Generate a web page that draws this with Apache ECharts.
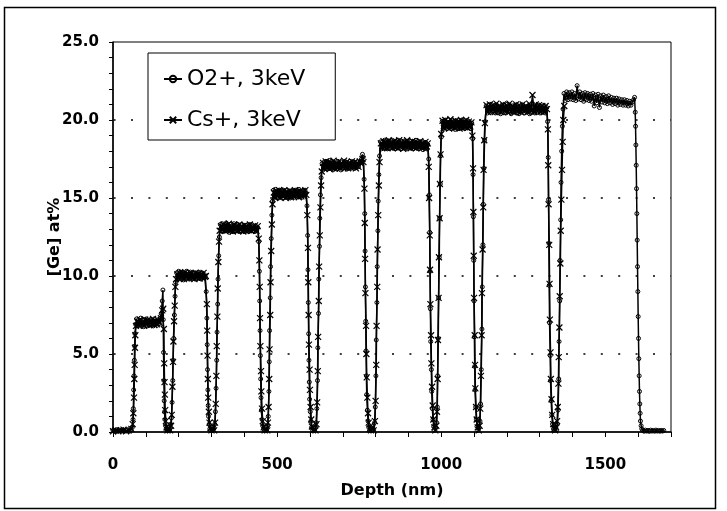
<!DOCTYPE html>
<html>
<head>
<meta charset="utf-8">
<script src="https://cdn.jsdelivr.net/npm/echarts@6/dist/echarts.min.js"></script>
<style>
  body { margin: 0; background: #fff; }
  #chart { width: 727px; height: 511px; }
</style>
</head>
<body>
<div id="chart"></div>
<script>
// [depth (nm), Ge at%]
var o2Data = [
  [0,0.1],[5,0.05],[10,0.15],[15,0.05],[20,0.12],[25,0.04],[30,0.14],[35,0.06],[40,0.1],[45,0.15],[50,0.05],[55,0.12],[59,0.3],
  [61,0.8],[62,1.5],[63,2.7],[64,3.6],[65,4.6],[66,5.5],[67,6.3],[69,6.9],
  [72,7.25],[75,6.8],[78,7.2],[81,6.85],[84,7.3],[87,6.9],[90,7.15],[93,6.75],[96,7.2],[99,6.9],[102,7.25],[105,6.8],[108,7.1],[111,6.85],[114,7.2],[117,6.9],[120,7.15],[123,6.8],[126,7.25],[129,6.9],[132,7.1],[135,6.85],[138,7.2],[141,6.95],[144,7.3],[147,7.6],[150,8.4],[152,9.1],
  [153,7.2],[154,5.1],[155,3.3],[156,2.0],[157,1.3],[158,0.8],[160,0.4],[162,0.2],[165,0.1],[168,0.3],[171,0.1],[174,0.25],[176,0.5],
  [178,0.9],[180,1.9],[182,3.3],[183,4.6],[185,6.0],[187,7.5],[189,8.7],[191,9.6],
  [194,10.2],[197,9.8],[200,10.3],[203,9.85],[206,10.25],[209,9.9],[212,10.2],[215,9.75],[218,10.15],[221,9.85],[224,10.3],[227,9.9],[230,10.1],[233,9.8],[236,10.25],[239,9.9],[242,10.15],[245,9.85],[248,10.2],[251,9.8],[254,10.1],[257,9.9],[260,10.25],[263,9.85],[266,10.15],[269,9.8],[272,10.2],[275,9.9],[278,10.1],[281,9.95],
  [284,9.0],[286,7.3],[287,5.6],[288,4.0],[289,2.7],[290,1.7],[291,1.0],[293,0.5],[295,0.2],[298,0.1],[301,0.3],[304,0.15],[307,0.2],[310,0.5],
  [312,1.3],[314,2.8],[316,4.6],[317,6.4],[319,8.2],[320,9.8],[322,11.3],[324,12.5],
  [327,13.3],[330,12.9],[333,13.35],[336,12.85],[339,13.2],[342,12.9],[345,13.4],[348,13.0],[351,13.25],[354,12.8],[357,13.3],[360,12.95],[363,13.2],[366,12.85],[369,13.35],[372,12.9],[375,13.2],[378,12.95],[381,13.3],[384,12.85],[387,13.15],[390,12.9],[393,13.3],[396,12.95],[399,13.2],[402,12.85],[405,13.25],[408,12.9],[411,13.15],[414,12.85],[417,13.3],[420,12.95],[423,13.2],[426,12.9],[429,13.15],[432,12.85],[435,13.2],[438,12.95],[441,13.1],
  [444,12.2],[446,10.3],[447,8.4],[448,6.5],[449,4.9],[450,3.4],[451,2.2],[452,1.4],[454,0.8],[456,0.4],[459,0.2],[462,0.1],[465,0.3],[468,0.15],[471,0.4],
  [473,1.0],[475,2.6],[476,4.5],[477,6.5],[479,8.6],[480,10.6],[482,12.4],[484,13.9],[486,14.8],
  [489,15.5],[492,15.1],[495,15.55],[498,15.05],[501,15.4],[504,15.0],[507,15.5],[510,15.1],[513,15.45],[516,15.0],[519,15.5],[522,15.15],[525,15.4],[528,15.05],[531,15.5],[534,15.1],[537,15.35],[540,15.0],[543,15.45],[546,15.1],[549,15.4],[552,15.05],[555,15.5],[558,15.15],[561,15.4],[564,15.1],[567,15.55],[570,15.15],[573,15.4],[576,15.05],[579,15.45],[582,15.2],[585,15.5],[588,15.3],
  [591,14.5],[593,12.6],[594,10.4],[595,8.3],[596,6.3],[597,4.6],[598,3.2],[599,2.1],[601,1.3],[603,0.7],[605,0.3],[608,0.1],[611,0.25],[614,0.1],[617,0.3],[619,0.6],
  [621,1.5],[623,3.3],[624,5.4],[626,7.6],[627,9.8],[629,11.9],[630,13.7],[632,15.2],[634,16.3],
  [637,17.2],[640,16.8],[643,17.3],[646,16.9],[649,17.35],[652,16.85],[655,17.2],[658,16.9],[661,17.4],[664,16.95],[667,17.25],[670,16.8],[673,17.3],[676,16.9],[679,17.2],[682,16.85],[685,17.35],[688,16.95],[691,17.2],[694,16.8],[697,17.3],[700,16.9],[703,17.25],[706,16.95],[709,17.3],[712,16.85],[715,17.2],[718,16.95],[721,17.35],[724,16.9],[727,17.25],[730,17.0],[733,17.3],[736,16.9],[739,17.2],[742,16.95],[745,17.3],[748,17.0],[751,17.25],[754,17.35],[757,17.5],[760,17.8],[762,17.6],
  [765,16.2],[767,14.0],[768,11.6],[769,9.3],[770,7.1],[771,5.2],[772,3.6],[773,2.4],[775,1.4],[777,0.7],[779,0.3],[782,0.1],[785,0.3],[788,0.1],[791,0.35],[794,0.15],[797,0.6],
  [799,1.6],[801,3.6],[802,5.9],[804,8.3],[805,10.6],[807,12.9],[808,14.8],[810,16.5],[812,17.7],
  [815,18.6],[818,18.15],[821,18.6],[824,18.2],[827,18.7],[830,18.25],[833,18.55],[836,18.15],[839,18.65],[842,18.2],[845,18.6],[848,18.3],[851,18.7],[854,18.2],[857,18.55],[860,18.15],[863,18.6],[866,18.25],[869,18.7],[872,18.2],[875,18.5],[878,18.15],[881,18.6],[884,18.25],[887,18.65],[890,18.2],[893,18.55],[896,18.15],[899,18.6],[902,18.3],[905,18.65],[908,18.2],[911,18.55],[914,18.15],[917,18.6],[920,18.25],[923,18.7],[926,18.2],[929,18.5],[932,18.15],[935,18.6],[938,18.25],[941,18.55],[944,18.1],[947,18.5],[950,18.2],[953,18.55],[956,18.15],[959,18.4],
  [962,17.5],[964,15.2],[965,12.8],[966,10.3],[967,7.9],[968,5.8],[970,4.0],[971,2.6],[973,1.5],[975,0.8],[977,0.35],[980,0.1],[983,0.3],[986,0.6],
  [988,1.6],[989,3.6],[991,6.0],[992,8.6],[994,11.2],[995,13.7],[997,15.9],[998,17.7],[1000,18.9],
  [1003,19.9],[1006,19.45],[1009,19.95],[1012,19.5],[1015,19.9],[1018,19.45],[1021,20.0],[1024,19.55],[1027,19.85],[1030,19.45],[1033,19.95],[1036,19.5],[1039,19.9],[1042,19.4],[1045,19.95],[1048,19.55],[1051,19.85],[1054,19.45],[1057,19.9],[1060,19.5],[1063,20.0],[1066,19.5],[1069,19.85],[1072,19.45],[1075,19.9],[1078,19.55],[1081,19.95],[1084,19.5],[1087,19.85],[1090,19.45],[1093,19.8],
  [1096,18.8],[1097,16.5],[1098,13.8],[1099,11.0],[1100,8.4],[1101,6.1],[1102,4.2],[1103,2.7],[1105,1.6],[1107,0.8],[1109,0.35],[1112,0.1],[1115,0.3],[1118,0.7],
  [1120,1.8],[1122,4.0],[1124,6.6],[1125,9.3],[1127,12.0],[1128,14.6],[1130,16.9],[1132,18.7],[1134,19.9],
  [1137,20.9],[1141,20.45],[1145,20.95],[1149,20.5],[1153,21.0],[1157,20.55],[1161,20.9],[1165,20.45],[1169,20.95],[1173,20.5],[1177,20.85],[1181,20.4],[1185,20.95],[1189,20.5],[1193,20.9],[1197,20.45],[1201,21.0],[1205,20.55],[1209,20.85],[1213,20.4],[1217,20.9],[1221,20.5],[1225,20.95],[1229,20.45],[1233,20.85],[1237,20.4],[1241,20.9],[1245,20.5],[1249,20.95],[1253,20.45],[1257,20.85],[1261,20.5],[1265,20.9],[1269,20.4],[1273,20.95],[1277,20.5],[1281,20.85],[1285,20.45],[1289,20.9],[1293,20.5],[1297,20.95],[1301,20.45],[1305,20.85],[1309,20.5],[1313,20.9],[1317,20.45],[1321,20.8],
  [1324,19.9],[1326,17.6],[1327,14.9],[1328,12.1],[1329,9.4],[1330,7.0],[1332,4.9],[1333,3.3],[1335,2.0],[1337,1.1],[1339,0.5],[1342,0.2],[1345,0.1],[1348,0.3],[1351,0.15],[1354,0.5],
  [1356,1.4],[1358,3.4],[1359,5.8],[1361,8.4],[1362,11.0],[1364,13.6],[1365,16.0],[1367,18.0],[1369,19.6],[1371,20.7],
  [1374,21.7],[1378,21.25],[1382,21.8],[1386,21.3],[1390,21.75],[1394,21.35],[1398,21.8],[1402,21.3],[1406,21.7],[1410,21.25],[1414,22.2],[1418,21.35],[1422,21.8],[1426,21.3],[1430,21.7],[1434,21.2],[1438,21.75],[1442,21.3],[1446,21.7],[1450,21.25],[1454,21.65],[1458,21.2],[1462,21.7],[1466,20.9],[1470,21.6],[1474,21.1],[1478,21.65],[1482,20.8],[1486,21.55],[1490,21.15],[1494,21.6],[1498,21.1],[1502,21.5],[1506,21.05],[1510,21.55],[1514,21.1],[1518,21.45],[1522,21.0],[1526,21.4],[1530,21.05],[1534,21.4],[1538,20.95],[1542,21.35],[1546,21.0],[1550,21.3],[1554,20.95],[1558,21.3],[1562,20.95],[1566,21.25],[1570,20.9],[1574,21.2],[1578,20.95],[1582,21.15],[1586,21.3],[1589,21.45],
  [1591,20.5],[1592,19.6],[1593,18.4],[1594,17.1],[1595,15.6],[1596,14.0],[1597,12.3],[1598,10.6],[1599,9.0],[1600,7.4],[1601,6.0],[1602,4.7],[1603,3.6],[1604,2.6],[1605,1.8],[1606,1.2],[1607,0.7],[1609,0.4],[1611,0.2],
  [1614,0.1],[1618,0.05],[1622,0.12],[1626,0.06],[1630,0.1],[1634,0.04],[1638,0.12],[1642,0.06],[1646,0.1],[1650,0.05],[1654,0.12],[1658,0.06],[1662,0.1],[1666,0.05],[1670,0.1],[1674,0.06],[1678,0.1]
];

var csData = [
  [0,0.05],[8,0.12],[16,0.04],[24,0.1],[32,0.15],[40,0.05],[48,0.1],[56,0.2],
  [60,0.5],[62,1.2],[64,2.2],[65,3.4],[66,4.3],[67,5.4],[68,6.2],[70,6.8],
  [74,7.1],[78,6.85],[82,7.2],[86,6.9],[90,7.05],[94,6.8],[98,7.2],[102,6.9],[106,7.15],[110,6.85],[114,7.1],[118,6.9],[122,7.25],[126,6.85],[130,7.1],[134,6.9],[138,7.15],[142,7.0],[146,7.3],[150,7.8],[153,7.9],
  [155,6.6],[156,4.4],[157,3.2],[158,2.4],[159,1.4],[161,0.7],[163,0.3],[166,0.1],[170,0.25],[174,0.1],[177,0.4],
  [179,1.1],[181,2.9],[183,4.5],[184,5.8],[186,7.1],[188,8.1],[190,9.3],[192,9.8],
  [196,10.1],[200,9.85],[204,10.2],[208,9.9],[212,10.15],[216,9.8],[220,10.25],[224,9.9],[228,10.1],[232,9.85],[236,10.2],[240,9.9],[244,10.1],[248,9.8],[252,10.2],[256,9.9],[260,10.15],[264,9.85],[268,10.1],[272,9.9],[276,10.2],[280,9.95],[283,10.0],
  [286,8.2],[287,6.5],[288,4.9],[289,3.4],[290,2.2],[292,1.3],[294,0.6],[297,0.25],[300,0.1],[304,0.2],[308,0.1],[311,0.6],
  [313,1.8],[315,3.6],[316,5.5],[318,7.4],[319,9.2],[321,10.9],[323,12.2],[325,12.9],
  [329,13.2],[333,12.95],[337,13.3],[341,12.9],[345,13.2],[349,12.95],[353,13.35],[357,12.9],[361,13.15],[365,12.85],[369,13.3],[373,12.95],[377,13.2],[381,12.9],[385,13.3],[389,12.95],[393,13.15],[397,12.85],[401,13.25],[405,12.9],[409,13.2],[413,12.95],[417,13.3],[421,12.9],[425,13.15],[429,12.95],[433,13.25],[437,12.9],[441,13.2],
  [444,12.4],[446,11.0],[447,9.3],[448,7.3],[449,5.5],[451,3.9],[452,2.6],[454,1.5],[456,0.7],[459,0.3],[462,0.1],[466,0.2],[470,0.1],[472,0.6],
  [474,1.6],[476,3.4],[477,5.3],[479,7.5],[480,9.6],[482,11.6],[484,13.3],[486,14.6],
  [490,15.35],[494,15.0],[498,15.45],[502,15.1],[506,15.5],[510,15.05],[514,15.4],[518,15.1],[522,15.5],[526,15.0],[530,15.35],[534,15.1],[538,15.45],[542,15.05],[546,15.4],[550,15.1],[554,15.5],[558,15.15],[562,15.4],[566,15.05],[570,15.45],[574,15.1],[578,15.4],[582,15.15],[586,15.5],[589,15.2],
  [592,13.9],[594,11.8],[595,9.6],[596,7.5],[597,5.6],[599,4.0],[600,2.7],[602,1.6],[604,0.8],[606,0.35],[609,0.1],[613,0.2],[617,0.1],[620,0.5],
  [622,1.9],[624,3.9],[625,6.1],[627,8.4],[628,10.6],[630,12.6],[632,14.4],[634,15.8],[636,16.7],
  [640,17.25],[644,16.9],[648,17.35],[652,16.95],[656,17.3],[660,16.85],[664,17.25],[668,16.95],[672,17.4],[676,16.9],[680,17.2],[684,16.95],[688,17.35],[692,16.9],[696,17.25],[700,17.0],[704,17.4],[708,16.95],[712,17.3],[716,16.9],[720,17.25],[724,16.95],[728,17.35],[732,17.0],[736,17.3],[740,16.9],[744,17.25],[748,17.0],[752,17.35],[756,17.2],[760,17.5],[763,17.3],
  [766,15.6],[767,13.4],[768,11.1],[769,8.9],[771,6.8],[772,5.0],[773,3.5],[775,2.2],[777,1.2],[779,0.6],[782,0.2],[786,0.1],[790,0.25],[794,0.1],[798,0.7],
  [800,2.0],[802,4.3],[803,6.8],[805,9.3],[806,11.7],[808,13.9],[810,15.8],[812,17.3],
  [816,18.5],[820,18.2],[824,18.65],[828,18.25],[832,18.6],[836,18.2],[840,18.7],[844,18.3],[848,18.55],[852,18.2],[856,18.65],[860,18.25],[864,18.6],[868,18.2],[872,18.7],[876,18.3],[880,18.55],[884,18.15],[888,18.6],[892,18.25],[896,18.7],[900,18.3],[904,18.55],[908,18.2],[912,18.65],[916,18.25],[920,18.6],[924,18.2],[928,18.55],[932,18.3],[936,18.65],[940,18.2],[944,18.5],[948,18.25],[952,18.6],[956,18.3],[959,18.5],
  [962,17.0],[963,15.0],[965,12.6],[966,10.4],[967,8.2],[969,6.2],[970,4.4],[972,2.9],[974,1.7],[976,0.8],[979,0.3],[982,0.1],[985,0.4],
  [987,1.3],[989,3.4],[990,5.9],[992,8.6],[993,11.2],[995,13.7],[996,15.9],[998,17.8],[1000,19.1],
  [1004,19.95],[1008,19.5],[1012,20.0],[1016,19.55],[1020,19.9],[1024,19.45],[1028,20.05],[1032,19.55],[1036,19.9],[1040,19.5],[1044,19.95],[1048,19.55],[1052,19.9],[1056,19.45],[1060,20.0],[1064,19.5],[1068,19.9],[1072,19.55],[1076,20.0],[1080,19.5],[1084,19.9],[1088,19.55],[1092,19.85],
  [1095,19.0],[1097,16.9],[1098,14.1],[1099,11.3],[1100,8.6],[1102,6.2],[1103,4.3],[1104,2.8],[1106,1.6],[1108,0.8],[1111,0.3],[1114,0.1],[1117,0.4],
  [1119,1.5],[1121,3.6],[1123,6.2],[1124,8.9],[1126,11.7],[1128,14.4],[1129,16.8],[1131,18.7],[1133,19.8],
  [1138,20.95],[1143,20.5],[1148,21.0],[1153,20.55],[1158,20.95],[1163,20.5],[1168,21.05],[1173,20.55],[1178,20.9],[1183,20.5],[1188,21.0],[1193,20.55],[1198,20.95],[1203,20.5],[1208,21.05],[1213,20.6],[1218,20.9],[1223,20.5],[1228,21.0],[1233,20.55],[1238,20.95],[1243,20.5],[1248,21.0],[1253,20.6],[1258,20.9],[1263,20.5],[1268,21.05],[1273,20.6],[1278,21.6],[1283,20.5],[1288,21.0],[1293,20.55],[1298,20.95],[1303,20.55],[1308,20.9],[1313,20.5],[1318,20.9],[1322,20.7],
  [1325,19.4],[1326,17.1],[1327,14.6],[1329,12.0],[1330,9.5],[1331,7.2],[1333,5.1],[1334,3.4],[1336,2.1],[1338,1.1],[1341,0.5],[1344,0.2],[1347,0.1],[1350,0.3],[1353,0.7],
  [1355,1.6],[1357,3.1],[1358,4.8],[1360,6.7],[1361,8.7],[1363,10.8],[1364,12.9],[1366,14.9],[1368,16.8],[1370,18.6],[1372,20.0],[1375,20.9]
];

var seriesNames = ['O2+, 3keV', 'Cs+, 3keV'];
var gridValues = [5, 10, 15, 20];
var xLabelStep = 500;

var myChart = echarts.init(document.getElementById('chart')),
    option = {
        animation: false,
        backgroundColor: '#fff',
        textStyle: { fontFamily: 'DejaVu Sans', color: '#000' },
        graphic: [
            {
                type: 'rect',
                z: -10,
                shape: { x: 4.5, y: 7.5, width: 711, height: 501 },
                style: { fill: 'none', stroke: '#000', lineWidth: 1.5 }
            }
        ],
        grid: {
            left: 113,
            right: 56,
            top: 42,
            bottom: 79,
            show: true,
            borderColor: '#000',
            borderWidth: 1
        },
        legend: {
            data: seriesNames,
            orient: 'vertical',
            left: 148,
            top: 53,
            backgroundColor: '#fff',
            borderColor: '#000',
            borderWidth: 1,
            padding: [15, 30, 9, 15],
            itemGap: 19,
            itemWidth: 18,
            itemHeight: 8,
            z: 10,
            textStyle: { fontSize: 22, color: '#000', fontFamily: 'DejaVu Sans' }
        },
        xAxis: {
            type: 'value',
            min: 0,
            max: 1700,
            interval: 100,
            name: 'Depth (nm)',
            nameLocation: 'middle',
            nameGap: 51,
            nameTextStyle: { fontWeight: 'bold', fontSize: 16, color: '#000' },
            axisLine: { onZero: false, lineStyle: { color: '#000', width: 1.5 } },
            axisTick: { length: 5, lineStyle: { color: '#000' } },
            axisLabel: {
                margin: 26,
                fontWeight: 'bold',
                fontSize: 15,
                color: '#000',
                formatter: function (v) { return v % xLabelStep === 0 ? String(v) : ''; }
            },
            splitLine: { show: false }
        },
        yAxis: {
            type: 'value',
            min: 0,
            max: 25,
            interval: 5,
            name: '[Ge] at%',
            nameLocation: 'middle',
            nameGap: 50,
            nameMoveOverlap: false,
            nameTextStyle: { fontWeight: 'bold', fontSize: 16, color: '#000' },
            axisLine: { lineStyle: { color: '#000', width: 1.5 } },
            axisTick: { length: 4, lineStyle: { color: '#000' } },
            minorTick: { show: true, splitNumber: 5, length: 4, lineStyle: { color: '#000' } },
            axisLabel: {
                margin: 14,
                fontWeight: 'bold',
                fontSize: 15,
                color: '#000',
                formatter: function (v) { return v.toFixed(1); }
            },
            splitLine: { show: false }
        },
        series: [
            {
                name: seriesNames[0],
                type: 'line',
                data: o2Data,
                symbol: 'circle',
                symbolSize: 4,
                lineStyle: { color: '#000', width: 1.5 },
                itemStyle: { color: 'rgba(0,0,0,0)', borderColor: '#000', borderWidth: 1 },
                z: 3,
                markLine: {
                    silent: true,
                    symbol: ['none', 'none'],
                    label: { show: false },
                    z: 1,
                    lineStyle: { color: '#000', width: 1.5, type: [2, 15.4], dashOffset: -18 },
                    data: gridValues.map(function (v) { return { yAxis: v }; })
                }
            },
            {
                name: seriesNames[1],
                type: 'line',
                data: csData,
                symbol: 'path://M0,0L10,10M10,0L0,10',
                symbolSize: 6,
                lineStyle: { color: '#000', width: 1.5 },
                itemStyle: { color: 'rgba(0,0,0,0)', borderColor: '#000', borderWidth: 1.2 },
                z: 4
            }
        ]
    };

myChart.setOption(option);
</script>
</body>
</html>
